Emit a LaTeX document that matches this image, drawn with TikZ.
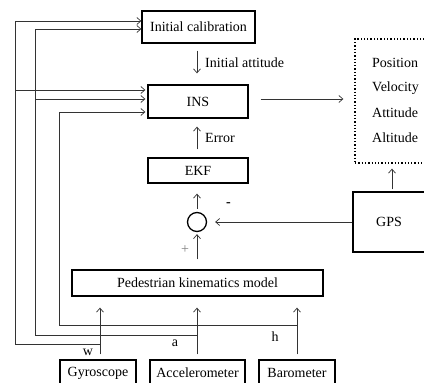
\documentclass[tikz,border=0pt]{standalone}
\usepackage{fontspec}
\setmainfont{Liberation Serif}
\usetikzlibrary{arrows.meta}
\begin{document}
\begin{tikzpicture}[x=1pt,y=-1pt,
  every node/.style={font=\fontsize{14}{16}\selectfont},
  blk/.style={draw=black,line width=1.3pt,inner sep=0pt,minimum width=#1},
  conn/.style={draw=black!80,line width=0.75pt},
  arr/.style={conn,-{Straight Barb[length=4pt,width=7pt,line width=0.7pt]}},
  lbl/.style={inner sep=0pt,anchor=west}]
\useasboundingbox (0,0) rectangle (424,383);
\clip (0,0) rectangle (424,383);
\fill[white] (0,0) rectangle (424,383);
% blocks
\node[blk=113pt,minimum height=32pt] (calib) at (198.5,27) {Initial calibration};
\node[blk=100pt,minimum height=33pt] (ins) at (198,101.5) {INS};
\node[blk=100pt,minimum height=25pt] (ekf) at (198,170.5) {EKF};
\node[draw=black,line width=1.3pt,circle,minimum size=19pt,inner sep=0pt] (sum) at (197,222) {};
\node[blk=251pt,minimum height=26pt] (pkm) at (197.5,283) {Pedestrian kinematics model};
\node[blk=72pt,minimum height=60pt] (gps) at (389,222) {GPS};
\node[draw=black,line width=1.3pt,dotted,inner sep=0pt,minimum width=80pt,minimum height=124pt] (out) at (395,101) {};
\node[blk=76pt,minimum height=26pt] (gyro) at (98,373) {Gyroscope};
\node[blk=95pt,minimum height=26pt] (acc) at (197.5,373) {Accelerometer};
\node[blk=76pt,minimum height=26pt] (baro) at (297,373) {Barometer};
% output texts
\node[lbl] (p1) at (372,63) {Position};
\node[lbl] (p2) at (372,88) {Velocity};
\node[lbl] (p3) at (372,113) {Attitude};
\node[lbl] (p4) at (372,138) {Altitude};
% labels
\node[lbl] (l1) at (205,63) {Initial attitude};
\node[lbl] (l2) at (205,138) {Error};
\node[text=black!50] (plus) at (185,250) {+};
\node[font=\fontsize{14}{16}\selectfont\bfseries] (minus) at (228.5,205) {-};
\node (lw) at (88,352) {w};
\node (la) at (175,343) {a};
\node (lh) at (275,337) {h};
% main connectors
\draw[arr,shorten <=7pt,shorten >=11pt] (calib.south -| 197,0) -- (ins.north -| 197,0);
\draw[arr,shorten <=8pt,shorten >=8pt] (ekf.north -| 197,0) -- (ins.south -| 197,0);
\draw[arr,shorten <=3pt,shorten >=10pt] (sum.north) -- (ekf.south -| 197,0);
\draw[arr,shorten <=10pt,shorten >=2pt] (pkm.north -| 197,0) -- (sum.south);
\draw[arr,shorten >=8pt] (gps.west) -- (sum.east);
\draw[arr,shorten <=12pt,shorten >=11pt] (ins.east |- 0,99) -- (out.west |- 0,99);
\draw[arr,shorten <=2pt,shorten >=5pt] (gps.north -| 392,0) -- (out.south -| 392,0);
% sensors to pkm
\draw[arr,shorten <=5pt,shorten >=11pt] (gyro.north -| 100,0) -- (pkm.south -| 100,0);
\draw[arr,shorten <=5pt,shorten >=11pt] (acc.north -| 197,0) -- (pkm.south -| 197,0);
\draw[arr,shorten <=5pt,shorten >=11pt] (baro.north -| 297,0) -- (pkm.south -| 297,0);
% buses
\draw[arr] (100,344) -- (15,344) -- (15,21) -- (calib.west |- 0,21);
\draw[arr,shorten >=2pt] (15,90) -- (ins.west |- 0,90);
\draw[arr] (197,335) -- (35,335) -- (35,29) -- (calib.west |- 0,29);
\draw[arr,shorten >=2pt] (35,99) -- (ins.west |- 0,99);
\draw[arr,shorten >=2pt] (297,325) -- (59,325) -- (59,112) -- (ins.west |- 0,112);
\end{tikzpicture}
\end{document}
